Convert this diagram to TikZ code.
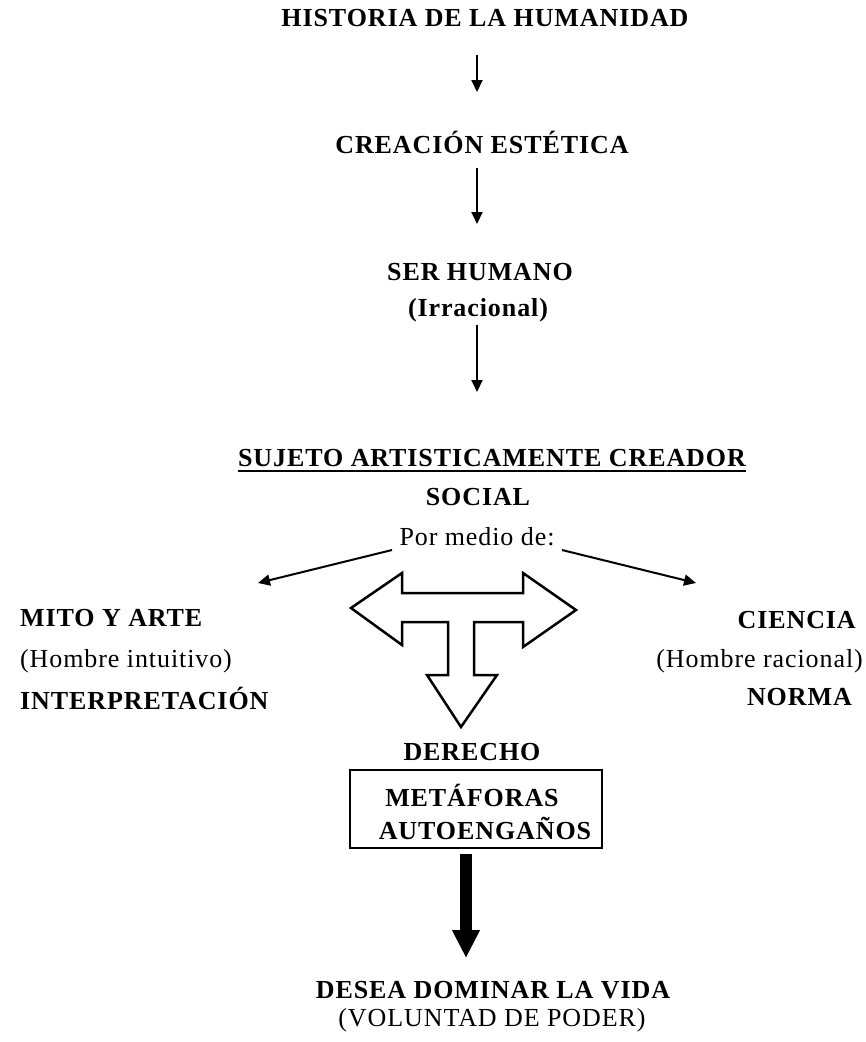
\documentclass[tikz,border=0pt]{standalone}
\usepackage{fontspec}
\setmainfont[LetterSpace=3.5]{Liberation Serif}
\usetikzlibrary{arrows.meta}
\begin{document}
\begin{tikzpicture}[x=1pt,y=-1pt,
  lbl/.style={inner sep=0pt, font=\fontsize{26}{30}\selectfont\bfseries},
  sub/.style={inner sep=0pt, font=\fontsize{26}{30}\selectfont},
  thinarrow/.style={line width=2pt, -{Triangle[width=11pt,length=12pt]}},
  blockarrow/.style={line width=2.5pt, line join=miter},
  bigarrow/.style={line width=12pt, -{Triangle[width=26pt,length=28pt]}}]
\useasboundingbox[fill=white] (0,0) rectangle (866,1042);

% texts
\node[lbl] (title) at (485,18) {HISTORIA DE LA HUMANIDAD};
\node[lbl] (creacion) at (482,142) {CREACIÓN ESTÉTICA};
\node[lbl] (ser) at (480,272) {SER HUMANO};
\node[lbl] (irr) at (478,310) {(Irracional)};
\node[lbl] (sujeto) at (492,458) {SUJETO ARTISTICAMENTE CREADOR};
\draw[line width=1.8pt] ([yshift=-4pt]sujeto.south west) -- ([yshift=-4pt]sujeto.south east);
\node[lbl] (social) at (478,497) {SOCIAL};
\node[sub] (medio) at (477,537) {Por medio de:};
\node[lbl,anchor=west] (mito) at (20,618) {MITO Y ARTE};
\node[sub,anchor=west] (intu) at (20,661) {(Hombre intuitivo)};
\node[lbl,anchor=west] (interp) at (20,698) {INTERPRETACIÓN};
\node[lbl,anchor=east] (ciencia) at (856,620) {CIENCIA};
\node[sub,anchor=east] (racio) at (863,661) {(Hombre racional)};
\node[lbl,anchor=east] (norma) at (852,697) {NORMA};
\node[lbl] (derecho) at (472,752) {DERECHO};
\node[draw, line width=2.5pt, minimum width=252pt, minimum height=78pt, inner sep=0pt] (box) at (476,809) {};
\node[lbl] (met) at (472,795) {METÁFORAS};
\node[lbl] (auto) at (485,828) {AUTOENGAÑOS};
\node[lbl] (desea) at (493,990) {DESEA DOMINAR LA VIDA};
\node[sub] (vol) at (492,1020) {(VOLUNTAD DE PODER)};

% connectors
\coordinate (a1s) at (477,55);  \coordinate (a1e) at (477,92);
\coordinate (a2s) at (477,168); \coordinate (a2e) at (477,224);
\coordinate (a3s) at (477,325); \coordinate (a3e) at (477,392);
\coordinate (ls) at (392,550);  \coordinate (le) at (258,583);
\coordinate (rs) at (562,550);  \coordinate (re) at (696,583);
\coordinate (bs) at (466,854);  \coordinate (be) at (466,958);
\draw[thinarrow] (a1s) -- (a1e);
\draw[thinarrow] (a2s) -- (a2e);
\draw[thinarrow] (a3s) -- (a3e);
\draw[thinarrow] (ls) -- (le);
\draw[thinarrow] (rs) -- (re);
\draw[bigarrow] (bs) -- (be);

% T-shaped block arrow
\draw[blockarrow] (351,608) -- (402,573) -- (402,593) -- (523,593) -- (523,573)
  -- (576,610) -- (523,647) -- (523,622) -- (474,622) -- (474,675) -- (497,675)
  -- (461,727) -- (427,675) -- (448,675) -- (448,622) -- (402,622) -- (402,645) -- cycle;
\end{tikzpicture}
\end{document}
